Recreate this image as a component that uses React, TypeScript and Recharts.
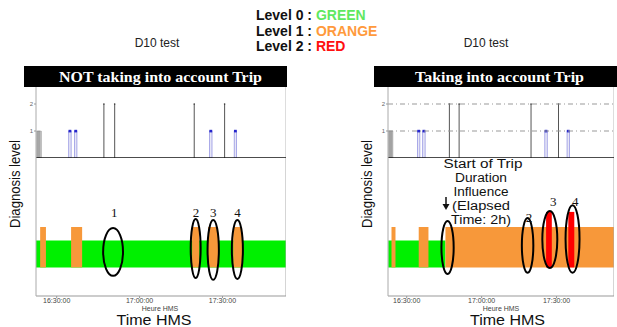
import React from 'react';
import { ComposedChart, Bar, Scatter, XAxis, YAxis, ReferenceLine, ReferenceArea } from 'recharts';

// ------------------------------------------------------------
// D10 test — diagnosis level with / without trip duration
// time is in minutes after 16:00:00
// ------------------------------------------------------------
const timeDomain: [number, number] = [22.5, 113];
const timeTicks = [30, 60, 90];
const timeLabels = ['16:30:00', '17:00:00', '17:30:00'];

// upper stem plot (same events in both panels)
const stemTimes = [23.0, 23.4, 23.8, 24.2, 34.8, 36.9, 47.1, 51.0, 79.8, 85.8, 90.8, 94.7];
const stemLevels = [1, 1, 1, 1, 1, 1, 2, 2, 2, 1, 2, 1];
const stemKinds = ['init', 'init', 'init', 'init', 'warn', 'warn', 'alarm', 'alarm', 'alarm', 'warn', 'alarm', 'warn'];

// lower state bands — NOT taking into account trip
const noTripStart = [22.5, 24.0, 35.2, 79.0, 84.8, 93.9];
const noTripEnd = [113, 26.1, 39.2, 81.6, 88.4, 97.1];
const noTripLevel = [0, 1, 1, 1, 1, 1];

// circled events — NOT taking into account trip
const noTripRingFrom = [46.8, 78.5, 84.6, 93.4];
const noTripRingTo = [54.0, 82.1, 88.7, 97.4];
const noTripRingLow = [-0.31, -0.39, -0.46, -0.43];
const noTripRingHigh = [1.46, 1.8, 1.76, 1.76];
const noTripTagTime = [50.8, 80.4, 86.7, 95.4];
const noTripTagLevel = [2.02, 2.02, 2.02, 2.02];
const noTripTags = ['1', '2', '3', '4'];

// lower state bands — taking into account trip
const tripStart = [22.6, 23.9, 34.8, 45.5, 85.8, 94.7];
const tripEnd = [45.5, 25.5, 38.7, 113, 88.1, 97.1];
const tripLevel = [0, 1, 1, 1, 2, 2];

// circled events — taking into account trip
const tripRingFrom = [43.9, 76.1, 84.3, 93.6];
const tripRingTo = [48.8, 80.7, 90.3, 99.2];
const tripRingLow = [-0.24, -0.2, -0.02, -0.2];
const tripRingHigh = [1.72, 1.83, 2.09, 2.31];
const tripTagTime = [79.0, 88.7, 97.5];
const tripTagLevel = [1.87, 2.43, 2.43];
const tripTags = ['2', '3', '4'];

const levelColor = ['#00f000', '#f7983a', '#ff0000'];
const levelTop = [1, 1.5, 2.06];

const SANS = '"Liberation Sans", Arial, sans-serif';
const SERIF = '"Liberation Serif", "Times New Roman", serif';
const AXIS_W = 12;

function Stem(props: any) {
    const { x, y, width, height, payload } = props;
    const cx = x + width / 2;
    if (payload.kind === 'init') {
        return <rect x={cx - 0.8} y={y} width={1.6} height={height} fill="#bcbcbc" stroke="#777" strokeWidth={0.3} />;
    }
    if (payload.kind === 'warn') {
        return (
            <g>
                <rect x={cx - 1.2} y={y} width={2.4} height={height} fill="#e6e6f6" stroke="#8a8ae0" strokeWidth={0.7} />
                <rect x={cx - 1.4} y={y - 1.2} width={2.8} height={2.6} fill="#2626cc" />
            </g>
        );
    }
    return (
        <g>
            <line x1={cx} x2={cx} y1={y} y2={y + height} stroke="#555" strokeWidth={1} />
            <circle cx={cx} cy={y} r={0.8} fill="#333" />
        </g>
    );
}

const ring = (props: any) => (
    <ellipse
        cx={props.x + props.width / 2}
        cy={props.y + props.height / 2}
        rx={props.width / 2}
        ry={props.height / 2}
        fill="none"
        stroke="#000"
        strokeWidth={2}
    />
);

const tag = (props: any) => (
    <text x={props.cx} y={props.cy} textAnchor="middle" dominantBaseline="central" fontFamily={SERIF} fontSize={13} fill="#111">
        {props.payload.text}
    </text>
);

interface PanelProps {
    left: number;
    right: number;
    grid: boolean;
    bandStart: number[];
    bandEnd: number[];
    bandLevel: number[];
    ringFrom: number[];
    ringTo: number[];
    ringLow: number[];
    ringHigh: number[];
    tagTime: number[];
    tagLevel: number[];
    tags: string[];
}

function Panel(p: PanelProps) {
    const plotW = p.right - p.left;
    const stems = stemTimes.map((t, i) => ({ t, level: stemLevels[i], kind: stemKinds[i] }));
    const labels = p.tagTime.map((t, i) => ({ t, v: p.tagLevel[i], text: p.tags[i] }));
    const margin = { top: 0, right: 0, bottom: 0, left: 0 };

    return (
        <>
            <div style={{ position: 'absolute', left: p.left - AXIS_W, top: 87 }}>
                <ComposedChart width={plotW + AXIS_W} height={71} data={stems} margin={margin}>
                    <XAxis dataKey="t" type="number" domain={timeDomain} allowDataOverflow hide />
                    <YAxis
                        type="number"
                        domain={[0, 2.63]}
                        ticks={[0, 1, 2]}
                        width={AXIS_W}
                        allowDataOverflow
                        tick={{ fontSize: 6, fill: '#666', fontFamily: SANS }}
                        tickSize={2}
                        tickMargin={1}
                        tickLine={{ stroke: '#999' }}
                        axisLine={{ stroke: '#aaa' }}
                    />
                    {p.grid &&
                        [1, 2].map((v) => (
                            <ReferenceLine key={v} y={v} stroke="#999" strokeDasharray="5 3 1 3" />
                        ))}
                    <ReferenceLine x={timeDomain[1]} stroke="#bbb" />
                    <Bar dataKey="level" barSize={2} shape={Stem} isAnimationActive={false} />
                    <ReferenceLine y={0} stroke="#111" strokeWidth={1.5} />
                </ComposedChart>
            </div>
            <div style={{ position: 'absolute', left: p.left - AXIS_W, top: 158 }}>
                <ComposedChart width={plotW + AXIS_W} height={150} data={labels} margin={margin}>
                    <XAxis
                        dataKey="t"
                        type="number"
                        domain={timeDomain}
                        allowDataOverflow
                        ticks={timeTicks}
                        tickFormatter={(v: number) => timeLabels[timeTicks.indexOf(v)]}
                        height={12}
                        tick={{ fontSize: 7, fill: '#444', fontFamily: SANS }}
                        tickSize={2}
                        tickMargin={0}
                        tickLine={{ stroke: '#999' }}
                        axisLine={{ stroke: '#999' }}
                    />
                    <YAxis
                        type="number"
                        domain={[-1.06, 4.06]}
                        width={AXIS_W}
                        allowDataOverflow
                        tick={false}
                        tickLine={false}
                        axisLine={{ stroke: '#aaa' }}
                    />
                    {p.bandStart.map((s, i) => (
                        <ReferenceArea
                            key={'b' + i}
                            x1={s}
                            x2={p.bandEnd[i]}
                            y1={0}
                            y2={levelTop[p.bandLevel[i]]}
                            fill={levelColor[p.bandLevel[i]]}
                            fillOpacity={1}
                            stroke="none"
                        />
                    ))}
                    <ReferenceLine x={timeDomain[1]} stroke="#aaa" />
                    {p.ringFrom.map((s, i) => (
                        <ReferenceArea
                            key={'r' + i}
                            x1={s}
                            x2={p.ringTo[i]}
                            y1={p.ringLow[i]}
                            y2={p.ringHigh[i]}
                            shape={ring}
                        />
                    ))}
                    <Scatter dataKey="v" shape={tag} isAnimationActive={false} />
                </ComposedChart>
            </div>
        </>
    );
}

export default function App() {
    return (
        <div style={{ position: 'absolute', left: 0, top: 0, width: 617, height: 327, background: '#fff', overflow: 'hidden' }}>
            <svg width={617} height={327} style={{ position: 'absolute', left: 0, top: 0 }}>
                {/* legend */}
                <g fontFamily={SANS} fontWeight="bold" fontSize={14} fill="#111">
                    <text x={256} y={15} dominantBaseline="central">
                        Level 0 : <tspan fill="#5fe85f">GREEN</tspan>
                    </text>
                    <text x={256} y={31} dominantBaseline="central">
                        Level 1 : <tspan fill="#ff9a3c">ORANGE</tspan>
                    </text>
                    <text x={256} y={46} dominantBaseline="central">
                        Level 2 : <tspan fill="#ff1010">RED</tspan>
                    </text>
                </g>
                <g fontFamily={SANS} fontSize={12} fill="#222" textAnchor="middle">
                    <text x={157} y={43} dominantBaseline="central">D10 test</text>
                    <text x={486} y={43} dominantBaseline="central">D10 test</text>
                </g>

                {/* title bars */}
                <rect x={24} y={66} width={263} height={21} fill="#000" />
                <rect x={374} y={66} width={243} height={21} fill="#000" />
                <g fontFamily={SERIF} fontWeight="bold" fontSize={15} fill="#fff" textAnchor="middle">
                    <text x={160.5} y={77} dominantBaseline="central" textLength={203} lengthAdjust="spacingAndGlyphs">
                        NOT taking into account Trip
                    </text>
                    <text x={499.5} y={77} dominantBaseline="central" textLength={169} lengthAdjust="spacingAndGlyphs">
                        Taking into account Trip
                    </text>
                </g>

                {/* axis titles */}
                <g fontFamily={SANS} fontSize={14} fill="#111" textAnchor="middle">
                    <text x={15} y={184} dominantBaseline="central" transform="rotate(-90 15 184)" textLength={88} lengthAdjust="spacingAndGlyphs">
                        Diagnosis level
                    </text>
                    <text x={367} y={184} dominantBaseline="central" transform="rotate(-90 367 184)" textLength={88} lengthAdjust="spacingAndGlyphs">
                        Diagnosis level
                    </text>
                </g>
                <g fontFamily={SANS} fontSize={7} fill="#444" textAnchor="middle">
                    <text x={160} y={308.5} dominantBaseline="central">Heure HMS</text>
                    <text x={501} y={308.5} dominantBaseline="central">Heure HMS</text>
                </g>
                <g fontFamily={SANS} fontSize={14} fill="#111" textAnchor="middle">
                    <text x={154} y={320} dominantBaseline="central" textLength={75} lengthAdjust="spacingAndGlyphs">Time HMS</text>
                    <text x={507.5} y={320} dominantBaseline="central" textLength={75} lengthAdjust="spacingAndGlyphs">Time HMS</text>
                </g>
            </svg>

            <Panel
                left={36}
                right={286}
                grid={false}
                bandStart={noTripStart}
                bandEnd={noTripEnd}
                bandLevel={noTripLevel}
                ringFrom={noTripRingFrom}
                ringTo={noTripRingTo}
                ringLow={noTripRingLow}
                ringHigh={noTripRingHigh}
                tagTime={noTripTagTime}
                tagLevel={noTripTagLevel}
                tags={noTripTags}
            />
            <Panel
                left={388}
                right={614}
                grid={true}
                bandStart={tripStart}
                bandEnd={tripEnd}
                bandLevel={tripLevel}
                ringFrom={tripRingFrom}
                ringTo={tripRingTo}
                ringLow={tripRingLow}
                ringHigh={tripRingHigh}
                tagTime={tripTagTime}
                tagLevel={tripTagLevel}
                tags={tripTags}
            />

            {/* trip annotation */}
            <svg width={617} height={327} style={{ position: 'absolute', left: 0, top: 0, pointerEvents: 'none' }}>
                <g fontFamily={SANS} fontSize={12.5} fill="#111" textAnchor="middle">
                    <text x={483} y={164} dominantBaseline="central" textLength={79} lengthAdjust="spacingAndGlyphs">Start of Trip</text>
                    <text x={481} y={178} dominantBaseline="central" textLength={52} lengthAdjust="spacingAndGlyphs">Duration</text>
                    <text x={481} y={192} dominantBaseline="central" textLength={55} lengthAdjust="spacingAndGlyphs">Influence</text>
                    <text x={481} y={205.5} dominantBaseline="central" textLength={58} lengthAdjust="spacingAndGlyphs">(Elapsed</text>
                    <text x={481} y={219.5} dominantBaseline="central" textLength={60} lengthAdjust="spacingAndGlyphs">Time: 2h)</text>
                </g>
                <line x1={446} y1={197} x2={446} y2={207} stroke="#111" strokeWidth={1.5} />
                <path d="M442.5,204 L446,210 L449.5,204 Z" fill="#111" />
            </svg>
        </div>
    );
}
